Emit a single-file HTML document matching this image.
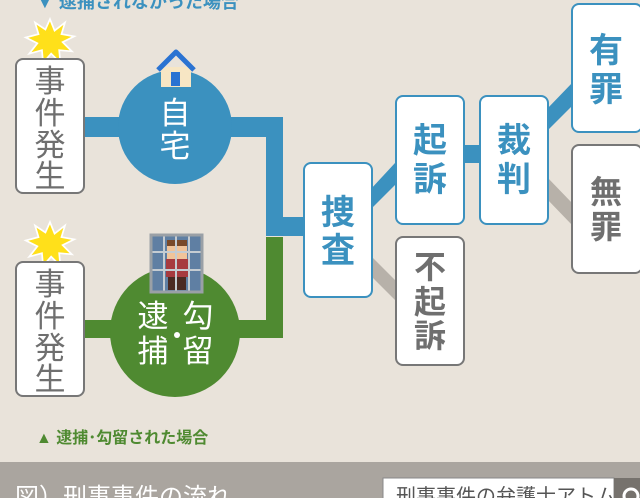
<!DOCTYPE html>
<html><head><meta charset="utf-8"><style>
html,body{margin:0;padding:0;width:640px;height:498px;overflow:hidden;background:#e9e3da}
svg{display:block}
text{font-family:"Liberation Sans","Noto Sans CJK JP",sans-serif}
</style></head><body>
<svg width="640" height="498" viewBox="0 0 640 498" xmlns="http://www.w3.org/2000/svg">
<rect width="640" height="498" fill="#e9e3da"/>
<text x="36" y="8" font-size="18" font-weight="bold" fill="#3b91bf">▼ 逮捕されなかった場合</text>
<rect x="84" y="117" width="40" height="20" fill="#3b91bf"/>
<polygon points="226,117 283,117 283,217 305,217 305,236 266,236 266,137 226,137" fill="#3b91bf"/>
<rect x="84" y="320" width="30" height="18" fill="#4f8a31"/>
<polygon points="266,237 283,237 283,338 235,338 235,320 266,320" fill="#4f8a31"/>
<circle cx="175" cy="127" r="57" fill="#3b91bf"/>
<circle cx="175" cy="332" r="65" fill="#4f8a31"/>
<g font-size="31" fill="#fff" text-anchor="middle">
<text x="175" y="124">自</text>
<text x="175" y="157">宅</text>
<text x="153" y="327">逮</text>
<text x="153" y="362">捕</text>
<text x="198" y="327">勾</text>
<text x="198" y="362">留</text>
</g>
<circle cx="177" cy="335" r="3" fill="#fff"/>
<rect x="161" y="67" width="30" height="20" fill="#f7e6c4"/>
<polyline points="158,70 176,52 194,70" fill="none" stroke="#2a73d2" stroke-width="5" stroke-linejoin="round"/>
<rect x="171" y="72" width="9" height="14" fill="#2a73d2"/>
<rect x="151" y="235" width="51" height="57" fill="#5f7fa3"/>
<rect x="167" y="245" width="20" height="14" fill="#f1c49a"/>
<rect x="167" y="240" width="20" height="6" fill="#7a4a2a"/>
<rect x="166" y="259" width="22" height="18" fill="#a73a3f"/>
<rect x="168" y="277" width="18" height="13" fill="#4b2a22"/>
<g stroke="#c5ccd2" stroke-width="2">
<line x1="164" y1="235" x2="164" y2="292"/><line x1="176" y1="235" x2="176" y2="292"/><line x1="189" y1="235" x2="189" y2="292"/>
<line x1="151" y1="252" x2="202" y2="252"/><line x1="151" y1="270" x2="202" y2="270"/></g>
<rect x="151" y="235" width="51" height="57" fill="none" stroke="#9aa0a6" stroke-width="3"/>
<g transform="translate(50,41) scale(1.15) translate(-50,-41)">
<polygon fill="#ffe01a" stroke="#fff" stroke-width="1.5" points="50,22 54,32 63,25 60,35 71,37 61,42 69,50 58,49 59,60 51,52 44,60 43,49 32,52 39,43 29,38 40,35 37,25 46,31"/></g>
<g transform="translate(50,244) scale(1.15) translate(-50,-244)">
<polygon fill="#ffe01a" stroke="#fff" stroke-width="1.5" points="50,225 54,235 63,228 60,238 71,240 61,245 69,253 58,252 59,263 51,255 44,263 43,252 32,255 39,246 29,241 40,238 37,228 46,234"/></g>
<g fill="#fff" stroke="#777" stroke-width="2">
<rect x="16" y="59" width="68" height="134" rx="7"/>
<rect x="16" y="262" width="68" height="134" rx="7"/>
</g>
<g font-size="31" fill="#6f6f6f" text-anchor="middle">
<text x="50" y="92">事</text><text x="50" y="124">件</text><text x="50" y="156">発</text><text x="50" y="187">生</text>
<text x="50" y="295">事</text><text x="50" y="327">件</text><text x="50" y="359">発</text><text x="50" y="390">生</text>
</g>
<polygon points="370,190 395,163 395,185 370,210" fill="#3b91bf"/>
<polygon points="370,255 395,280 395,300 370,275" fill="#b7b1a9"/>
<rect x="462" y="145" width="20" height="18" fill="#3b91bf"/>
<polygon points="546,110 573,82 573,105 546,132" fill="#3b91bf"/>
<polygon points="546,176 573,204 573,226 546,198" fill="#b7b1a9"/>
<g fill="#fff" stroke-width="2">
<rect x="304" y="163" width="68" height="134" rx="7" stroke="#3b91bf"/>
<rect x="396" y="96" width="68" height="128" rx="7" stroke="#3b91bf"/>
<rect x="480" y="96" width="68" height="128" rx="7" stroke="#3b91bf"/>
<rect x="572" y="4" width="70" height="128" rx="7" stroke="#3b91bf"/>
<rect x="572" y="145" width="70" height="128" rx="7" stroke="#777"/>
<rect x="396" y="237" width="68" height="128" rx="7" stroke="#777"/>
</g>
<g font-size="34" font-weight="bold" fill="#3b91bf" text-anchor="middle">
<text x="338" y="224">捜</text><text x="338" y="262">査</text>
<text x="430" y="152">起</text><text x="430" y="191">訴</text>
<text x="514" y="152">裁</text><text x="514" y="191">判</text>
<text x="606" y="62">有</text><text x="606" y="101">罪</text>
</g>
<g font-size="32" font-weight="bold" fill="#6f6f6f" text-anchor="middle">
<text x="606" y="203">無</text><text x="606" y="238">罪</text>
<text x="430" y="278">不</text><text x="430" y="313">起</text><text x="430" y="347">訴</text>
</g>
<text x="36" y="443" font-size="16" font-weight="bold" fill="#4f8a31">▲ 逮捕･勾留された場合</text>
<rect x="0" y="462" width="640" height="36" fill="#aaa59f"/>
<text x="15" y="505" font-size="24" fill="#fff">図）刑事事件の流れ</text>
<rect x="383" y="478" width="231" height="30" fill="#fff" stroke="#888" stroke-width="1"/>
<text x="396" y="503" font-size="20" fill="#555">刑事事件の弁護士アトム</text>
<rect x="614" y="478" width="26" height="30" fill="#76726d"/>
<circle cx="631" cy="496" r="7" fill="none" stroke="#fff" stroke-width="3"/>
</svg>
</body></html>
